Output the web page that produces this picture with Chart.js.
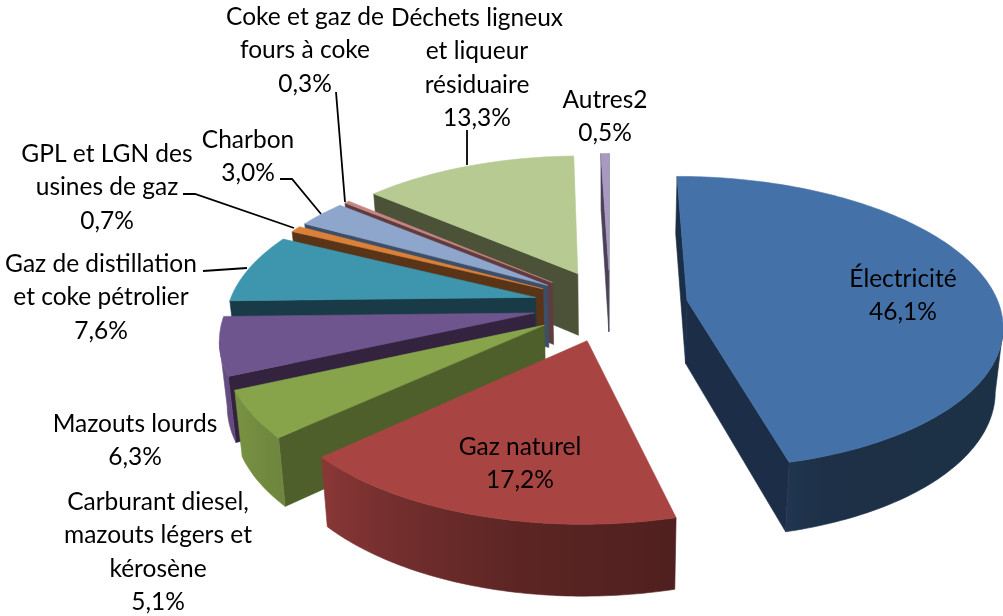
<!DOCTYPE html>
<html lang="fr"><head><meta charset="utf-8">
<style>html,body{margin:0;padding:0;background:#fff}canvas{display:block}</style>
<script src="https://cdn.jsdelivr.net/npm/chart.js@4"></script></head>
<body><canvas id="c" width="1003" height="616"></canvas>
<script>
const categories=["Électricité","Gaz naturel","Carburant diesel, mazouts légers et kérosène","Mazouts lourds","Gaz de distillation et coke pétrolier","GPL et LGN des usines de gaz","Charbon","Coke et gaz de fours à coke","Déchets ligneux et liqueur résiduaire","Autres2"];
const values=[46.1,17.2,5.1,6.3,7.6,0.7,3.0,0.3,13.3,0.5];
const topColors=["#4472A8","#A84442","#87A44B","#6F558E","#3E95AE","#DA8137","#8EA5CC","#C88482","#B6CA92","#A899C0"];
const wallColors=["#1C2E47","#7A3432","#4F5F2B","#33233F","#193A47","#5A3416","#3D4E68","#5F3D3F","#4B5237","#4A4058"];
const labelLines=[["Électricité"],["Gaz naturel"],["Carburant diesel,","mazouts légers et","kérosène"],["Mazouts lourds"],["Gaz de distillation","et coke pétrolier"],["GPL et LGN des","usines de gaz"],["Charbon"],["Coke et gaz de","fours à coke"],["Déchets ligneux","et liqueur","résiduaire"],["Autres2"]];
// layout
const labelX=[903,520,158,135,101,107,248,305,477,605];
const labelY=[279,447,502,424,264,154,140,17,18,100];
const lineStep=33.5;
const leaders=[[[203,271],[247,268]],[[183,194],[195,194],[294,228]],[[280,179],[292,179],[321,214]],[[336,92],[345,202]],[[467,130],[467,165]]];
const P={cx:610,cy:305,AL:307,AR:312,B:144,k:0.15,H:63,explode:0.25,fade:0.98};
const camV=1/P.k;
function proj(u,v,low){const d=1-P.k*v;let x=u*(u<0?P.AL:P.AR)/d,y=P.B*v/d;
  if(low){x*=P.fade;y+=P.H/(1-0.1*v);}return[P.cx+x,P.cy+y];}
const shadeStops=[[0,.41],[160,.42],[166,.47],[190,.55],[210,.68],[228,.82],[246,.9],[270,.97],[360,.97]];
function shade(a){for(let i=1;i<shadeStops.length;i++){if(a<=shadeStops[i][0]){const[p,q]=shadeStops[i-1],[r,s]=shadeStops[i];return q+(s-q)*(a-p)/(r-p);}}return .97;}
function scaled(hex,f){const n=parseInt(hex.slice(1),16);return`rgb(${Math.round((n>>16)*f)},${Math.round(((n>>8)&255)*f)},${Math.round((n&255)*f)})`;}
function poly(ctx,pts,fill){ctx.beginPath();pts.forEach((p,i)=>i?ctx.lineTo(p[0],p[1]):ctx.moveTo(p[0],p[1]));ctx.closePath();ctx.fillStyle=fill;ctx.strokeStyle=fill;ctx.lineWidth=.6;ctx.fill();ctx.stroke();}
function drawSlice(ctx,el,i,top,wall){
  const R=Math.PI/180,a0=(el.startAngle+Math.PI/2)/R,a1=(el.endAngle+Math.PI/2)/R,m=(a0+a1)/2*R;
  const ou=P.explode*Math.sin(m),ov=-P.explode*Math.cos(m);
  const pt=(a,low)=>proj(ou+Math.sin(a*R),ov-Math.cos(a*R),low);
  const ap=low=>proj(ou,ov,low);
  const faces=(nu,nv,pu,pv)=>nu*(0-pu)+nv*(camV-pv)>0;
  if(faces(-Math.cos(a0*R),-Math.sin(a0*R),ou,ov))poly(ctx,[ap(false),pt(a0,false),pt(a0,true),ap(true)],wall);
  if(faces(Math.cos(a1*R),Math.sin(a1*R),ou,ov))poly(ctx,[ap(false),pt(a1,false),pt(a1,true),ap(true)],wall);
  const step=Math.min(1,(a1-a0)/2);
  const angles=[];for(let a=a0;a<a1;a+=step)angles.push(a);angles.push(a1);
  const seen=angles.filter(a=>{const nu=Math.sin(a*R),nv=-Math.cos(a*R);return faces(nu,nv,ou+nu,ov+nv);});
  if(seen.length>1){
    const upper=seen.map(a=>pt(a,false)),lower=seen.map(a=>pt(a,true)).reverse();
    const xs=upper.concat(lower).map(p=>p[0]),x0=Math.min(...xs),x1=Math.max(...xs);
    const g=ctx.createLinearGradient(x0,0,x1,0);
    seen.forEach((a,j)=>{g.addColorStop((upper[j][0]-x0)/Math.max(x1-x0,1),scaled(top,shade(a)));});
    poly(ctx,upper.concat(lower),g);
  }
  poly(ctx,[ap(false)].concat(angles.map(a=>pt(a,false))),top);
}
const pie3d={id:'pie3d',
  beforeDatasetDraw(chart,args){
    const ctx=chart.ctx,els=args.meta.data,ds=chart.data.datasets[0];
    ctx.save();
    for(let i=els.length-1;i>=0;i--)drawSlice(ctx,els[i],i,ds.backgroundColor[i],wallColors[i]);
    ctx.strokeStyle='#000';ctx.lineWidth=1.8;
    leaders.forEach(l=>{ctx.beginPath();l.forEach((p,j)=>j?ctx.lineTo(p[0],p[1]):ctx.moveTo(p[0],p[1]));ctx.stroke();});
    ctx.fillStyle='#000';ctx.font='24.5px Lato';ctx.textAlign='center';ctx.textBaseline='middle';
    labelLines.forEach((ls,i)=>{const t=ls.concat([values[i].toFixed(1).replace('.',',')+'%']);
      t.forEach((s,j)=>ctx.fillText(s,labelX[i],labelY[i]+j*lineStep));});
    ctx.restore();
    return false;
  }};
new Chart(document.getElementById('c'),{type:'pie',plugins:[pie3d],
  data:{labels:categories,datasets:[{data:values,backgroundColor:topColors,borderWidth:0}]},
  options:{responsive:false,animation:false,rotation:0,plugins:{legend:{display:false},tooltip:{enabled:false}}}});
</script></body></html>
